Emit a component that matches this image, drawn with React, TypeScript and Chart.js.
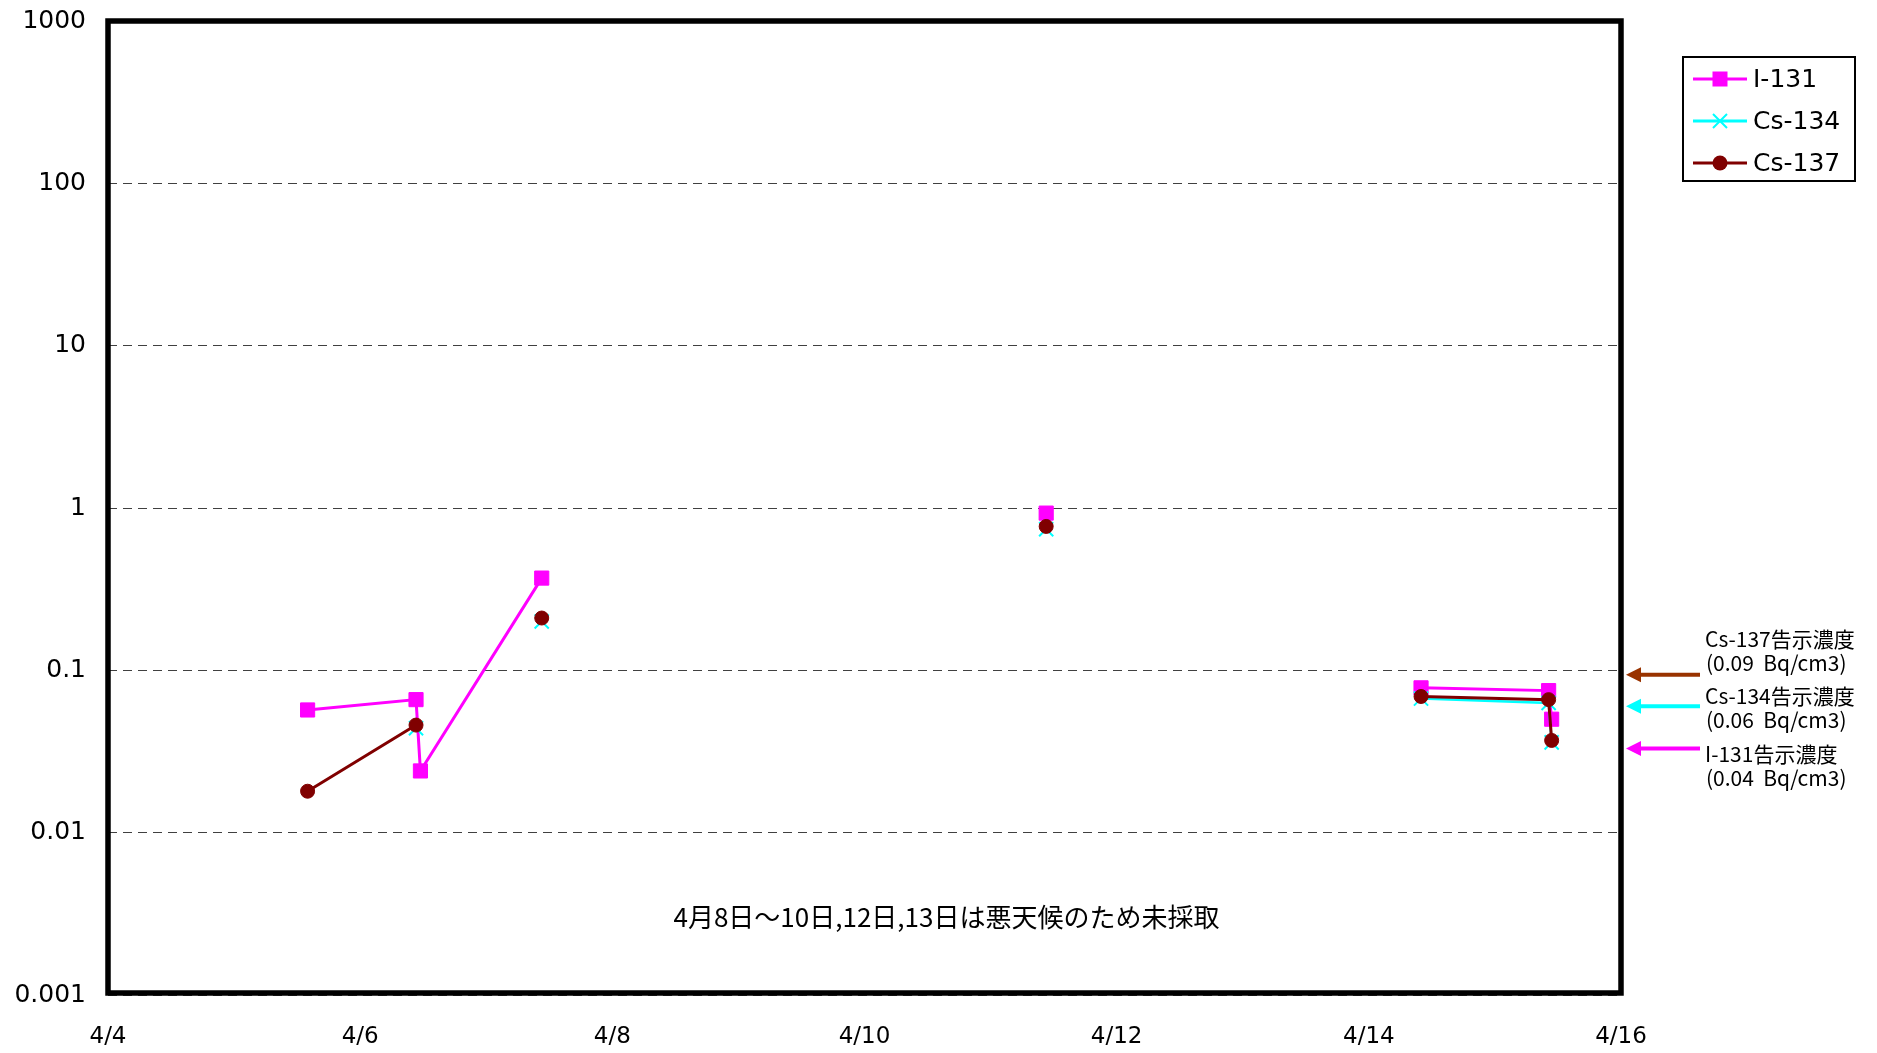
import React, { useEffect, useRef } from "react";
import { Chart, registerables } from "chart.js";

Chart.register(...registerables);

// ---- data ----
// sampling times, as days counted from 4/4 00:00 (entries with no sample keep the lines apart)
const SAMPLE_LABELS = ["4/5", "4/6 (1)", "4/6 (2)", "4/7", "4/8-4/10 未採取", "4/11", "4/12-4/13 未採取", "4/14", "4/15 (1)", "4/15 (2)"];
const SAMPLE_DAYS = [1.583, 2.443, 2.478, 3.44, 5.0, 7.441, 9.0, 10.414, 11.426, 11.45];
const I131 = [0.057, 0.066, 0.024, 0.37, null, 0.93, null, 0.078, 0.075, 0.05];
const CS134 = [null, 0.044, null, 0.2, null, 0.74, null, 0.067, 0.063, 0.036];
const CS137 = [0.018, 0.046, null, 0.21, null, 0.77, null, 0.069, 0.066, 0.037];

const SERIES_NAMES = ["I-131", "Cs-134", "Cs-137"];

const X_TICK_DAYS = [0, 2, 4, 6, 8, 10, 12];
const X_TICK_LABELS = ["4/4", "4/6", "4/8", "4/10", "4/12", "4/14", "4/16"];
const Y_TICK_VALUES = [0.001, 0.01, 0.1, 1, 10, 100, 1000];
const Y_TICK_LABELS = ["0.001", "0.01", "0.1", "1", "10", "100", "1000"];

const LIMIT_NAMES = ["Cs-137告示濃度", "Cs-134告示濃度", "I-131告示濃度"];
const LIMIT_TEXTS = ["(0.09  Bq/cm3)", "(0.06  Bq/cm3)", "(0.04  Bq/cm3)"];
const LIMIT_ARROW_LEVELS = [0.094, 0.06, 0.033];

const NOTE = "4月8日～10日,12日,13日は悪天候のため未採取";

// ---- styles / layout ----
const COLORS = ["#FF00FF", "#00FFFF", "#800000"];
const LIMIT_COLORS = ["#993300", "#00FFFF", "#FF00FF"];
const LIMIT_TEXT_Y = [639, 696, 754];
const NOTE_AT = { day: 6.65, value: 0.003 };
const LATIN = "'DejaVu Sans', 'Liberation Sans', sans-serif";
const JP = "'Noto Sans CJK JP', sans-serif";

function drawMarker(ctx: CanvasRenderingContext2D, kind: number, x: number, y: number, color: string) {
  ctx.save();
  ctx.fillStyle = color;
  ctx.strokeStyle = color;
  if (kind === 0) {
    ctx.fillRect(x - 7.5, y - 7.5, 15, 15);
  } else if (kind === 1) {
    ctx.lineWidth = 2;
    ctx.beginPath();
    ctx.moveTo(x - 7, y - 7);
    ctx.lineTo(x + 7, y + 7);
    ctx.moveTo(x + 7, y - 7);
    ctx.lineTo(x - 7, y + 7);
    ctx.stroke();
  } else {
    ctx.beginPath();
    ctx.arc(x, y, 7.5, 0, Math.PI * 2);
    ctx.fill();
  }
  ctx.restore();
}

const overlay = {
  id: "overlay",
  beforeDatasetsDraw(chart: any) {
    const { ctx, chartArea: a } = chart;
    ctx.save();
    ctx.strokeStyle = "#000";
    ctx.lineWidth = 5.5;
    ctx.strokeRect(a.left, a.top, a.right - a.left, a.bottom - a.top - 2);
    ctx.restore();
  },
  afterDraw(chart: any) {
    const { ctx, chartArea: a, scales } = chart;
    const ys = scales.y;
    const xs = scales.x;
    ctx.save();

    // legend
    const lx = 1683, ly = 57, lw = 172, lh = 124;
    ctx.fillStyle = "#fff";
    ctx.fillRect(lx, ly, lw, lh);
    ctx.strokeStyle = "#000";
    ctx.lineWidth = 2;
    ctx.strokeRect(lx, ly, lw, lh);
    const rowY = [79, 121, 163];
    SERIES_NAMES.forEach((name, i) => {
      const y = rowY[i];
      ctx.strokeStyle = COLORS[i];
      ctx.lineWidth = 3;
      ctx.beginPath();
      ctx.moveTo(lx + 10, y);
      ctx.lineTo(lx + 64, y);
      ctx.stroke();
      drawMarker(ctx, i, lx + 37, y, COLORS[i]);
      ctx.fillStyle = "#000";
      ctx.font = `25px ${LATIN}`;
      ctx.textAlign = "left";
      ctx.textBaseline = "middle";
      ctx.fillText(name, lx + 70, y + 1);
    });

    // limit arrows and labels
    LIMIT_NAMES.forEach((name, i) => {
      const y = ys.getPixelForValue(LIMIT_ARROW_LEVELS[i]);
      const tip = a.right + 5;
      ctx.strokeStyle = LIMIT_COLORS[i];
      ctx.fillStyle = LIMIT_COLORS[i];
      ctx.lineWidth = 4;
      ctx.beginPath();
      ctx.moveTo(tip + 12, y);
      ctx.lineTo(a.right + 79, y);
      ctx.stroke();
      ctx.beginPath();
      ctx.moveTo(tip, y);
      ctx.lineTo(tip + 15, y - 7.5);
      ctx.lineTo(tip + 15, y + 7.5);
      ctx.closePath();
      ctx.fill();
      ctx.fillStyle = "#000";
      ctx.font = `21px ${JP}`;
      ctx.textAlign = "left";
      ctx.textBaseline = "middle";
      ctx.fillText(name, a.right + 84, LIMIT_TEXT_Y[i]);
      ctx.fillText(LIMIT_TEXTS[i], a.right + 85, LIMIT_TEXT_Y[i] + 24);
    });

    // note
    ctx.fillStyle = "#000";
    ctx.font = `26px ${JP}`;
    ctx.textAlign = "center";
    ctx.textBaseline = "middle";
    ctx.fillText(NOTE, xs.getPixelForValue(NOTE_AT.day), ys.getPixelForValue(NOTE_AT.value));
    ctx.restore();
  },
};

export default function App() {
  const ref = useRef<HTMLCanvasElement>(null);
  useEffect(() => {
    const canvas = ref.current;
    if (!canvas) return;
    const series = [I131, CS134, CS137];
    const chart = new Chart(canvas, {
      type: "line",
      data: {
        labels: SAMPLE_LABELS,
        datasets: series.map((vals, i) => ({
          label: SERIES_NAMES[i],
          data: SAMPLE_DAYS.map((d, k) => ({ x: d, y: vals[k] })),
          borderColor: COLORS[i],
          backgroundColor: COLORS[i],
          borderWidth: i === 1 ? 2.5 : 3,
          pointStyle: i === 0 ? "rect" : i === 1 ? "crossRot" : "circle",
          pointRadius: i === 0 ? 10 : i === 1 ? 10 : 7,
          pointBorderWidth: i === 1 ? 2 : 1,
          pointBorderColor: COLORS[i],
          pointBackgroundColor: COLORS[i],
          spanGaps: false,
          tension: 0,
          order: 3 - i,
        })),
      },
      options: {
        responsive: false,
        animation: false,
        devicePixelRatio: 1,
        layout: { padding: { top: 21, right: 256, left: 0, bottom: 0 } },
        plugins: { legend: { display: false }, tooltip: { enabled: false } },
        scales: {
          x: {
            type: "linear",
            min: 0,
            max: 12,
            afterBuildTicks: (s: any) => {
              s.ticks = X_TICK_DAYS.map((v) => ({ value: v }));
            },
            afterFit: (s: any) => {
              s.height = 58;
              s.paddingLeft = 0;
              s.paddingRight = 0;
              s.paddingTop = 0;
              s.paddingBottom = 0;
            },
            ticks: {
              autoSkip: false,
              maxRotation: 0,
              padding: 28,
              color: "#000",
              font: { family: LATIN, size: 23 },
              callback: (_v: any, i: number) => X_TICK_LABELS[i],
            },
            grid: { display: false, drawTicks: false },
            border: { display: false },
          },
          y: {
            type: "logarithmic",
            min: 0.001,
            max: 1000,
            afterBuildTicks: (s: any) => {
              s.ticks = Y_TICK_VALUES.map((v) => ({ value: v }));
            },
            afterFit: (s: any) => {
              s.width = 108;
              s.paddingLeft = 0;
              s.paddingRight = 0;
              s.paddingTop = 0;
              s.paddingBottom = 0;
            },
            ticks: {
              autoSkip: false,
              padding: 22,
              color: "#000",
              font: { family: LATIN, size: 25 },
              callback: (_v: any, i: number) => Y_TICK_LABELS[i],
            },
            grid: { color: "#404040", lineWidth: 1, drawTicks: false, borderDash: [9, 6] } as any,
            border: { display: false, dash: [9, 6] },
          },
        },
      } as any,
      plugins: [overlay],
    });
    return () => chart.destroy();
  }, []);
  return (
    <div style={{ position: "fixed", left: 0, top: 0, width: 1877, height: 1053, background: "#fff" }}>
      <canvas ref={ref} width={1877} height={1053} style={{ display: "block" }} />
    </div>
  );
}
